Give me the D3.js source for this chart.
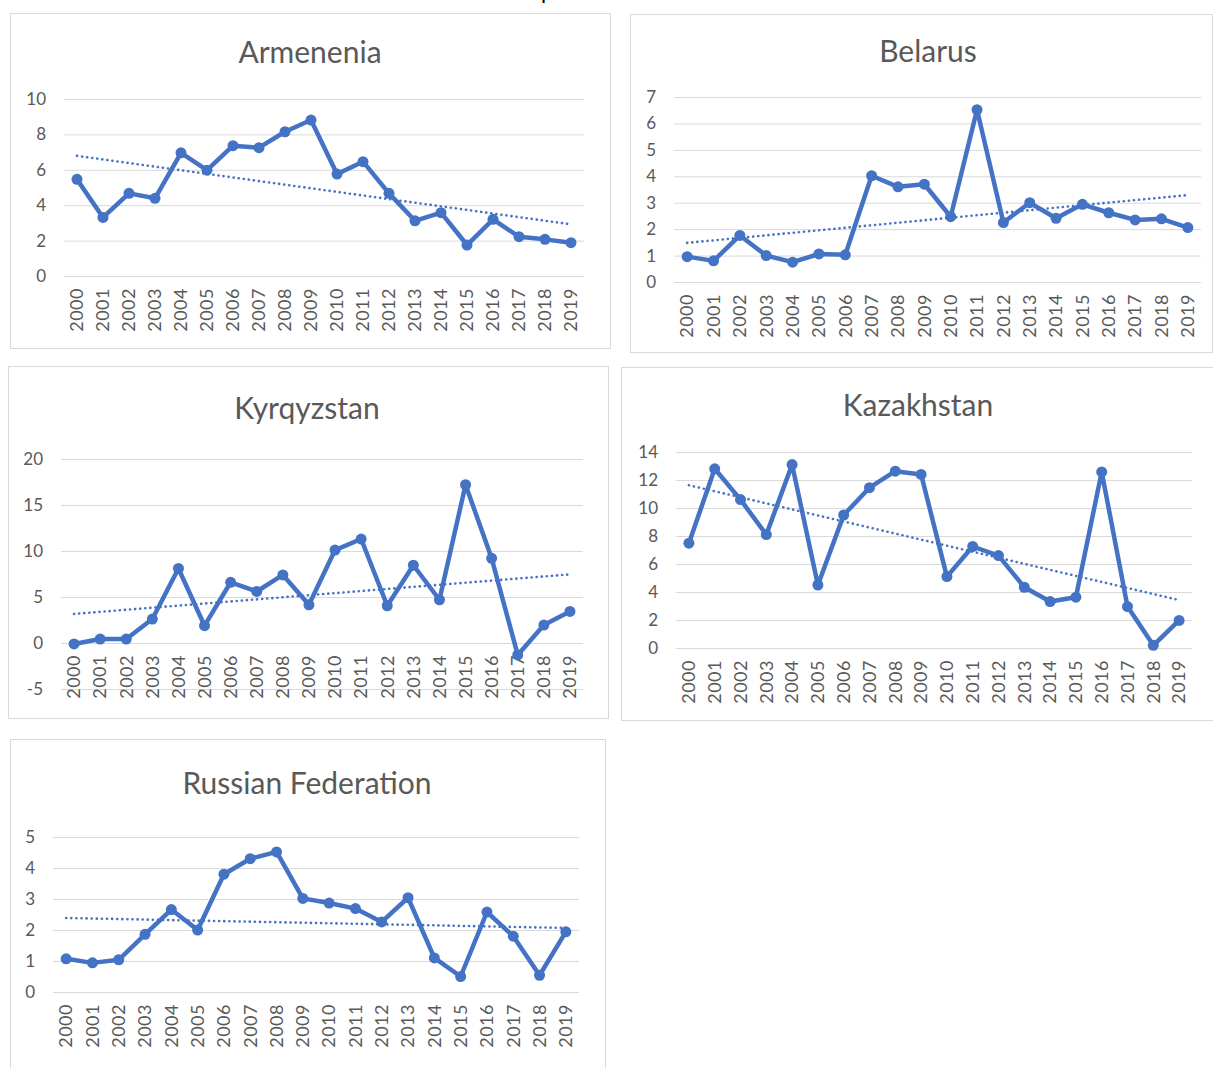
<!DOCTYPE html>
<html><head><meta charset="utf-8">
<script src="https://cdn.jsdelivr.net/npm/d3@7"></script>
<style>body{margin:0;background:#fff} svg{display:block}</style>
</head><body><svg id="c" width="1213" height="1068"></svg>
<script>
const years = ["2000","2001","2002","2003","2004","2005","2006","2007","2008","2009","2010","2011","2012","2013","2014","2015","2016","2017","2018","2019"];
const armenia = [5.46,3.31,4.67,4.39,6.96,5.98,7.36,7.25,8.15,8.81,5.76,6.46,4.67,3.12,3.58,1.75,3.2,2.22,2.07,1.88];
const belarus = [0.96,0.8,1.76,1.0,0.75,1.06,1.03,4.02,3.6,3.7,2.47,6.52,2.25,3.0,2.41,2.94,2.62,2.35,2.39,2.06];
const kyrgyzstan = [-0.1,0.43,0.43,2.6,8.1,1.88,6.6,5.6,7.4,4.15,10.1,11.3,4.05,8.45,4.7,17.2,9.2,-1.3,1.95,3.43];
const kazakhstan = [7.49,12.8,10.6,8.1,13.1,4.5,9.5,11.45,12.63,12.4,5.1,7.25,6.6,4.34,3.32,3.63,12.58,2.96,0.19,1.97];
const russia = [1.07,0.94,1.04,1.86,2.66,2.0,3.8,4.3,4.52,3.02,2.87,2.69,2.26,3.04,1.1,0.5,2.58,1.8,0.54,1.94];

const armeniaTicks = [0,2,4,6,8,10];
const belarusTicks = [0,1,2,3,4,5,6,7];
const kyrgyzstanTicks = [-5,0,5,10,15,20];
const kazakhstanTicks = [0,2,4,6,8,10,12,14];
const russiaTicks = [0,1,2,3,4,5];

const panels = [
  {title:"Armenenia", values:armenia, ticks:armeniaTicks, box:[10,13,600,335], band:[64,584], yr:[276,99], tx:310, ty:52},
  {title:"Belarus", values:belarus, ticks:belarusTicks, box:[630,14,582,338], band:[674,1201], yr:[282,97], tx:928, ty:51},
  {title:"Kyrqyzstan", values:kyrgyzstan, ticks:kyrgyzstanTicks, box:[8,366,600,352], band:[61,583], yr:[689,459], tx:307, ty:408},
  {title:"Kazakhstan", values:kazakhstan, ticks:kazakhstanTicks, box:[621,367,592,353], band:[676,1192], yr:[648,452], tx:918, ty:405},
  {title:"Russian Federation", values:russia, ticks:russiaTicks, box:[10,739,595,340], band:[53,579], yr:[992,837], tx:307, ty:783}
];

const svg = d3.select("#c");
const BLUE = "#4472C4", GRID = "#d9d9d9", TXT = "#595959";
const FONT = "Lato, 'Open Sans', sans-serif";

// cut-off text at very top (only its descender is visible in the reference)
svg.append("text").attr("x",541).attr("y",-1).attr("font-family",FONT).attr("font-size",22).attr("fill","#000").text("p");

function regression(vals){
  const n = vals.length; const xs = d3.range(n);
  const mx = d3.mean(xs), my = d3.mean(vals);
  let sxy=0, sxx=0;
  xs.forEach((x,i)=>{sxy+=(x-mx)*(vals[i]-my); sxx+=(x-mx)*(x-mx);});
  const b = sxy/sxx, a = my - b*mx;
  return xs.map(x=>a+b*x);
}

panels.forEach(p=>{
  const g = svg.append("g");
  const [bx,by,bw,bh] = p.box;
  g.append("rect").attr("x",bx+0.5).attr("y",by+0.5).attr("width",bw).attr("height",bh)
    .attr("fill","#fff").attr("stroke",GRID).attr("stroke-width",1);
  g.append("text").attr("x",p.tx).attr("y",p.ty).attr("dy","0.35em").attr("text-anchor","middle")
    .attr("font-family",FONT).attr("font-size",30).attr("fill",TXT).text(p.title);

  const x = d3.scalePoint().domain(years).range(p.band).padding(0.5);
  const y = d3.scaleLinear().domain(d3.extent(p.ticks)).range(p.yr);

  const yAxis = d3.axisLeft(y).tickValues(p.ticks).tickSize(-(p.band[1]-p.band[0])).tickPadding(18).tickFormat(d=>String(d));
  const ya = g.append("g").attr("transform",`translate(${p.band[0]},0)`).call(yAxis);
  ya.select(".domain").remove();
  ya.selectAll(".tick line").attr("stroke",GRID).attr("stroke-width",1);
  ya.selectAll(".tick text").attr("fill",TXT).attr("font-family",FONT).attr("font-size",17);

  const zero = y(0);
  g.append("g").selectAll("text").data(years).join("text")
    .attr("transform",d=>`translate(${x(d)},${zero+12}) rotate(-90)`)
    .attr("text-anchor","end").attr("dy","0.35em")
    .attr("font-family",FONT).attr("font-size",18).attr("letter-spacing","0.5").attr("fill",TXT).text(d=>d);

  const trend = regression(p.values);
  g.append("path").datum(trend)
    .attr("d", d3.line().x((d,i)=>x(years[i])).y(d=>y(d)))
    .attr("fill","none").attr("stroke",BLUE).attr("stroke-width",2.6)
    .attr("stroke-dasharray","0.1 5").attr("stroke-linecap","round");

  g.append("path").datum(p.values)
    .attr("d", d3.line().x((d,i)=>x(years[i])).y(d=>y(d)))
    .attr("fill","none").attr("stroke",BLUE).attr("stroke-width",4.5).attr("stroke-linejoin","round");
  g.append("g").selectAll("circle").data(p.values).join("circle")
    .attr("cx",(d,i)=>x(years[i])).attr("cy",d=>y(d)).attr("r",5.5).attr("fill",BLUE);
});
</script></body></html>
